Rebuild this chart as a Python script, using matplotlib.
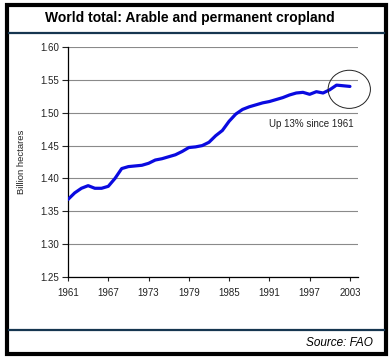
import numpy as np
import matplotlib
matplotlib.use("Agg")
from matplotlib import pyplot as plt
from matplotlib.patches import Rectangle, Ellipse
from matplotlib.lines import Line2D

plt.rcParams['font.family'] = ['Liberation Sans', 'DejaVu Sans']

# data (billion hectares)
years = list(range(1961, 2004))
cropland = [1.368, 1.378, 1.385, 1.389, 1.385, 1.385, 1.388, 1.400, 1.415, 1.418,
            1.419, 1.420, 1.423, 1.428, 1.430, 1.433, 1.436, 1.441, 1.447, 1.448,
            1.450, 1.455, 1.465, 1.473, 1.487, 1.498, 1.505, 1.509, 1.512, 1.515,
            1.517, 1.520, 1.523, 1.527, 1.530, 1.531, 1.528, 1.532, 1.530, 1.535,
            1.542, 1.541, 1.540]
x_ticks = [1961, 1967, 1973, 1979, 1985, 1991, 1997, 2003]
y_ticks = [1.25, 1.30, 1.35, 1.40, 1.45, 1.50, 1.55, 1.60]

W, H = 390, 361
fig = plt.figure(figsize=(W / 100, H / 100), dpi=100)
fig.patch.set_facecolor("white")

ax = fig.add_axes([68 / W, 1 - 277 / H, (358 - 68) / W, (277 - 47) / H])
ax.plot(years, cropland, color="#0a0ae0", lw=2.3, solid_capstyle="round", zorder=3)

ax.set_xlim(1961, 2004.2)
ax.set_ylim(1.25, 1.60)
ax.set_xticks(x_ticks)
ax.set_yticks(y_ticks)
ax.set_yticklabels([f"{v:.2f}" for v in y_ticks])
ax.grid(axis="y", color="#8a8a8a", lw=0.8)
ax.set_axisbelow(True)
for s in ["top", "right"]:
    ax.spines[s].set_visible(False)
for s in ["left", "bottom"]:
    ax.spines[s].set_linewidth(0.9)
ax.tick_params(axis="y", length=4.5, width=0.8, pad=2, labelsize=7, colors="#222222")
ax.tick_params(axis="x", length=3, width=0.8, pad=5, labelsize=7, colors="#222222")
ax.set_ylabel("Billion hectares", fontsize=6.8, labelpad=10, color="#222222")

# callout
ax.add_patch(Ellipse((2002.9, 1.5356), 6.3, 0.058, fill=False, ec="#222222",
                     lw=0.7, clip_on=False, zorder=4))
ax.text(2003.5, 1.4835, "Up 13% since 1961", ha="right", va="center",
        fontsize=7, color="#222222")

# frame and header / footer
fig.add_artist(Rectangle((7 / W, 1 - 353.5 / H), 378.5 / W, 348.5 / H,
                         transform=fig.transFigure, fill=False, ec="black", lw=3))
navy = "#163650"
fig.add_artist(Line2D([9 / W, 384 / W], [1 - 33 / H, 1 - 33 / H],
                      transform=fig.transFigure, color=navy, lw=1.6))
fig.add_artist(Line2D([9 / W, 384 / W], [1 - 329.5 / H, 1 - 329.5 / H],
                      transform=fig.transFigure, color=navy, lw=1.6))
fig.text(190 / W, 1 - 18 / H, "World total: Arable and permanent cropland",
         ha="center", va="center", fontsize=10, fontweight="bold")
fig.text(373 / W, 1 - 343 / H, "Source: FAO", ha="right", va="center",
         fontsize=8.5, style="italic")

fig.savefig("out.png", dpi=100)
